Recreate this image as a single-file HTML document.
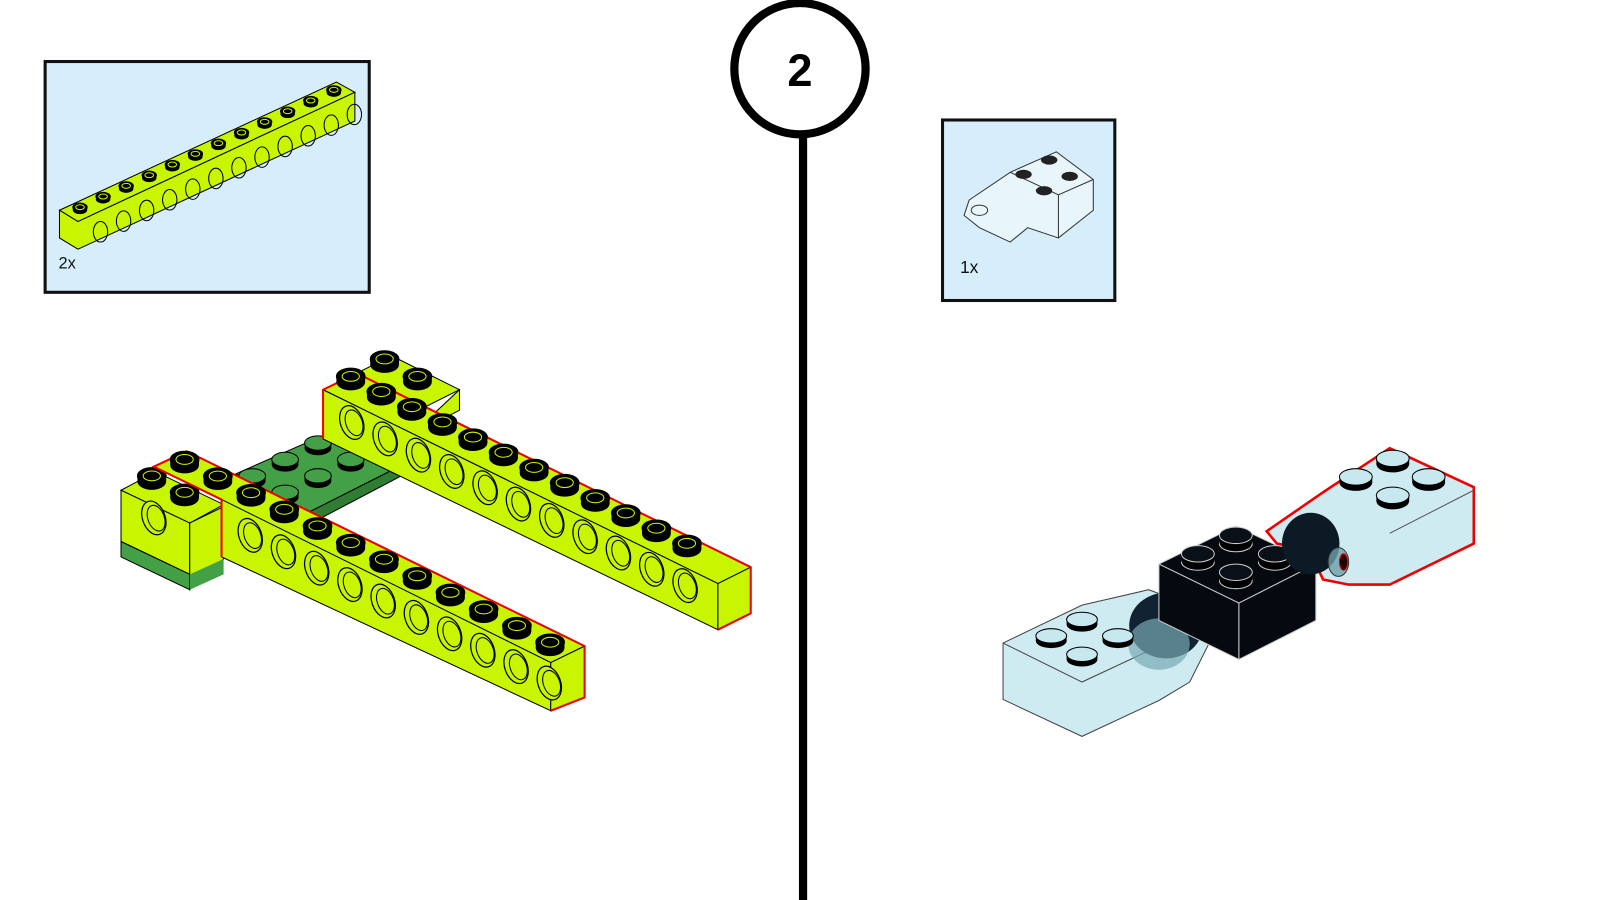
<!DOCTYPE html>
<html><head><meta charset="utf-8"><style>
html,body{margin:0;padding:0;background:#fff;width:1600px;height:900px;overflow:hidden}
svg{display:block}
text{font-family:"Liberation Sans",sans-serif}
</style></head><body>
<svg id="s" width="1600" height="900" viewBox="0 0 1600 900">
<g transform="scale(1.0256)">
<!-- left callout box -->
<rect x="44" y="60" width="316" height="225" fill="#d6eefc" stroke="#111" stroke-width="3"/>
<g id="mini"></g>
<text x="57" y="262" font-size="16" fill="#111">2x</text>
<!-- right callout box -->
<rect x="919" y="117" width="168" height="176" fill="#d6eefc" stroke="#111" stroke-width="3"/>
<g stroke="#333" stroke-width="1" fill="#e8f6fb">
<path d="M945 195 L985 168 L1030 148 L1066 175 L1066 205 L1032 232 L1002 222 L985 236 L955 222 L940 210 Z"/>
<path d="M985 168 L1032 190 L1066 175 M1032 190 L1032 232" fill="none"/>
<ellipse cx="955" cy="205" rx="8" ry="5"/>
</g>
<g fill="#222"><ellipse cx="1023" cy="156" rx="8" ry="4.5"/><ellipse cx="998" cy="170" rx="8" ry="4.5"/><ellipse cx="1043" cy="172" rx="8" ry="4.5"/><ellipse cx="1018" cy="186" rx="8" ry="4.5"/></g>
<text x="936" y="266" font-size="17" fill="#111">1x</text>
<!-- step number -->
<line x1="783" y1="128" x2="783" y2="878" stroke="#000" stroke-width="8"/>
<circle cx="780" cy="67" r="64" fill="#fff" stroke="#000" stroke-width="8"/>
<text x="780" y="84" font-size="44" font-weight="bold" text-anchor="middle" fill="#000">2</text>
<g id="left"></g>
<g id="right"></g>
</g>
</svg>
<script>
const NS="http://www.w3.org/2000/svg";
function el(p,t,a){const e=document.createElementNS(NS,t);for(const k in a)e.setAttribute(k,a[k]);p.appendChild(e);return e;}
const L=document.getElementById('left'),M=document.getElementById('mini'),R=document.getElementById('right');
const LIME="#c8f500",GR="#43a047";
function stud(g,x,y,rx,ry,c){el(g,'ellipse',{cx:x,cy:y+ry*0.7,rx:rx,ry:ry,fill:'#000'});el(g,'rect',{x:x-rx,y:y,width:2*rx,height:ry*0.7,fill:'#000'});el(g,'ellipse',{cx:x,cy:y,rx:rx,ry:ry,fill:c||'#000',stroke:'#000','stroke-width':1});if(!c){el(g,'ellipse',{cx:x,cy:y,rx:rx*0.6,ry:ry*0.6,fill:'none',stroke:LIME,'stroke-width':1});}}
function hole(g,x,y){el(g,'ellipse',{cx:x,cy:y,rx:11,ry:17,fill:LIME,stroke:'#000','stroke-width':1.2,transform:`rotate(-20 ${x} ${y})`});el(g,'ellipse',{cx:x+2,cy:y+1,rx:8,ry:13,fill:'none',stroke:'#000','stroke-width':1,transform:`rotate(-20 ${x} ${y})`});}
// mini beam
el(M,'polygon',{points:"58,205 328,80 346,90 76,216",fill:LIME,stroke:'#000','stroke-width':1});
el(M,'polygon',{points:"76,216 346,90 346,118 76,243 58,232 58,205",fill:LIME,stroke:'#000','stroke-width':1});
for(let i=0;i<12;i++){const x=78+i*22.5,y=202-i*10.4;stud(M,x,y,7,4);el(M,'ellipse',{cx:x+20,cy:y+24,rx:7,ry:10,fill:'none',stroke:'#000','stroke-width':1});}
// green plate
el(L,'polygon',{points:"230,462 330,418 395,452 300,500",fill:GR,stroke:'#000','stroke-width':1});
el(L,'polygon',{points:"300,500 395,452 395,462 300,512",fill:'#2e7d32',stroke:'#000','stroke-width':1});
[[310,432],[342,448],[278,448],[310,464],[246,464],[278,480]].forEach(p=>stud(L,p[0],p[1],13,7,GR));
// back 2x2 brick
el(L,'polygon',{points:"315,380 382,347 448,380 382,413",fill:LIME,stroke:'#000','stroke-width':1});
el(L,'polygon',{points:"448,380 448,400 400,425",fill:LIME,stroke:'#000','stroke-width':1});
stud(L,375,350,14,8);stud(L,407,367,14,8);
// back long beam
el(L,'polygon',{points:"315,380 348,364 732,553 700,569",fill:LIME,stroke:'#000','stroke-width':1});
el(L,'polygon',{points:"315,380 700,569 700,614 315,428",fill:LIME,stroke:'#000','stroke-width':1});
el(L,'polygon',{points:"700,569 732,553 732,598 700,614",fill:LIME,stroke:'#000','stroke-width':1});
el(L,'polyline',{points:"315,428 315,380 348,364 732,553 732,598 700,614",fill:'none',stroke:'#e00','stroke-width':2});
for(let i=0;i<12;i++){stud(L,342+i*29.8,367+i*14.8,14,8);}
for(let i=0;i<11;i++){hole(L,343+i*32.5,412+i*15.9);}
// left block
el(L,'polygon',{points:"118,478 152,460 218,492 185,510",fill:LIME,stroke:'#000','stroke-width':1});
el(L,'polygon',{points:"118,478 185,510 185,560 118,528",fill:LIME,stroke:'#000','stroke-width':1});
el(L,'polygon',{points:"118,528 185,560 185,575 118,543",fill:GR,stroke:'#000','stroke-width':1});
el(L,'polygon',{points:"185,510 218,494 218,545 185,575",fill:LIME,stroke:'#000','stroke-width':1});
el(L,'polygon',{points:"185,560 218,545 218,560 185,575",fill:GR});
stud(L,148,464,14,8);stud(L,180,480,14,8);
hole(L,150,505);
// front beam
el(L,'polygon',{points:"150,455 182,440 570,630 537,646 ",fill:LIME,stroke:'#000','stroke-width':1});
el(L,'polygon',{points:"216,487 537,646 537,693 216,543",fill:LIME,stroke:'#000','stroke-width':1});
el(L,'polygon',{points:"537,646 570,630 570,680 537,693",fill:LIME,stroke:'#000','stroke-width':1});
el(L,'polyline',{points:"216,543 216,487 150,455 182,440 570,630 570,680 537,693",fill:'none',stroke:'#e00','stroke-width':2});
for(let i=0;i<12;i++){stud(L,180+i*32.4,448+i*16.2,14,8);}
for(let i=0;i<10;i++){hole(L,244+i*32.4,522+i*16);}
// right assembly
const TB="rgba(190,228,236,0.75)";
el(R,'polygon',{points:"978,627 1055,590 1120,575 1160,590 1180,625 1160,665 1130,683 1055,718 978,682",fill:TB,stroke:'#444','stroke-width':1});
el(R,'polyline',{points:"978,627 1055,665 1130,630 M1055,665 1055,718",fill:'none',stroke:'#444','stroke-width':1});
el(R,'ellipse',{cx:1137,cy:610,rx:36,ry:32,fill:'#123'});
el(R,'ellipse',{cx:1130,cy:628,rx:30,ry:25,fill:'rgba(120,170,180,0.7)'});
[[1055,604],[1025,620],[1090,620],[1055,638]].forEach(p=>stud(R,p[0],p[1],15,7,'#c6e8ee'));
el(R,'polygon',{points:"1130,550 1205,513 1283,550 1208,588",fill:'#050a10',stroke:'#ccc','stroke-width':1});
el(R,'polygon',{points:"1130,550 1208,588 1208,643 1130,605",fill:'#050a10',stroke:'#ccc','stroke-width':1});
el(R,'polygon',{points:"1208,588 1283,550 1283,605 1208,643",fill:'#050a10',stroke:'#ccc','stroke-width':1});
[[1205,522],[1168,540],[1243,540],[1205,558]].forEach(p=>{el(R,'ellipse',{cx:p[0],cy:p[1]+8,rx:16,ry:8,fill:'#000',stroke:'#ccc'});el(R,'rect',{x:p[0]-16,y:p[1],width:32,height:8,fill:'#000'});el(R,'ellipse',{cx:p[0],cy:p[1],rx:16,ry:8,fill:'#0a1018',stroke:'#ccc'});});
el(R,'polygon',{points:"1235,518 1290,480 1355,437 1437,475 1437,530 1355,570 1315,570 1290,565 1283,550 1270,535 1245,530",fill:TB,stroke:'#e00','stroke-width':2.5});
el(R,'ellipse',{cx:1278,cy:530,rx:28,ry:30,fill:'#0b1a24'});
el(R,'ellipse',{cx:1305,cy:548,rx:10,ry:14,fill:'rgba(110,160,170,0.8)',stroke:'#333'});
el(R,'ellipse',{cx:1310,cy:548,rx:4,ry:8,fill:'#200',stroke:'#e00'});
[[1358,447],[1322,465],[1393,465],[1358,483]].forEach(p=>stud(R,p[0],p[1],16,8,'#c6e8ee'));
el(R,'polyline',{points:"1355,520 1437,478 M1355,520 1355,570",fill:'none',stroke:'#555','stroke-width':1});
</script>
</body></html>
